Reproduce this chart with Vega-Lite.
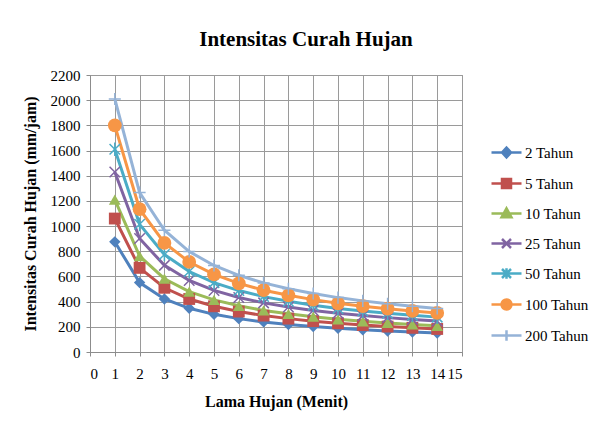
{
  "$schema": "https://vega.github.io/schema/vega-lite/v6.json",
  "width": 372,
  "height": 277,
  "autosize": "none",
  "padding": {"left": 90, "top": 75, "right": 136, "bottom": 76},
  "background": "white",
  "title": {
    "text": "Intensitas Curah Hujan",
    "font": "Liberation Serif",
    "fontSize": 21,
    "fontWeight": "bold",
    "color": "black",
    "anchor": "middle",
    "dx": 30,
    "offset": 18
  },
  "config": {
    "font": "Liberation Serif",
    "view": {"stroke": "#8c8c8c", "strokeWidth": 1},
    "axis": {
      "gridColor": "#9a9a9a",
      "gridOpacity": 1,
      "domainColor": "#8c8c8c",
      "tickColor": "#8c8c8c",
      "tickSize": 4
    }
  },
  "data": {
    "values": [
      {"t": 1, "s": "2 Tahun", "v": 875}, {"t": 2, "s": "2 Tahun", "v": 551}, {"t": 3, "s": "2 Tahun", "v": 421}, {"t": 4, "s": "2 Tahun", "v": 347}, {"t": 5, "s": "2 Tahun", "v": 299}, {"t": 6, "s": "2 Tahun", "v": 265}, {"t": 7, "s": "2 Tahun", "v": 239}, {"t": 8, "s": "2 Tahun", "v": 219}, {"t": 9, "s": "2 Tahun", "v": 202}, {"t": 10, "s": "2 Tahun", "v": 188}, {"t": 11, "s": "2 Tahun", "v": 177}, {"t": 12, "s": "2 Tahun", "v": 167}, {"t": 13, "s": "2 Tahun", "v": 158}, {"t": 14, "s": "2 Tahun", "v": 151},
      {"t": 1, "s": "5 Tahun", "v": 1060}, {"t": 2, "s": "5 Tahun", "v": 668}, {"t": 3, "s": "5 Tahun", "v": 510}, {"t": 4, "s": "5 Tahun", "v": 421}, {"t": 5, "s": "5 Tahun", "v": 363}, {"t": 6, "s": "5 Tahun", "v": 321}, {"t": 7, "s": "5 Tahun", "v": 289}, {"t": 8, "s": "5 Tahun", "v": 265}, {"t": 9, "s": "5 Tahun", "v": 245}, {"t": 10, "s": "5 Tahun", "v": 228}, {"t": 11, "s": "5 Tahun", "v": 214}, {"t": 12, "s": "5 Tahun", "v": 202}, {"t": 13, "s": "5 Tahun", "v": 192}, {"t": 14, "s": "5 Tahun", "v": 183},
      {"t": 1, "s": "10 Tahun", "v": 1210}, {"t": 2, "s": "10 Tahun", "v": 762}, {"t": 3, "s": "10 Tahun", "v": 582}, {"t": 4, "s": "10 Tahun", "v": 480}, {"t": 5, "s": "10 Tahun", "v": 414}, {"t": 6, "s": "10 Tahun", "v": 367}, {"t": 7, "s": "10 Tahun", "v": 330}, {"t": 8, "s": "10 Tahun", "v": 303}, {"t": 9, "s": "10 Tahun", "v": 280}, {"t": 10, "s": "10 Tahun", "v": 260}, {"t": 11, "s": "10 Tahun", "v": 244}, {"t": 12, "s": "10 Tahun", "v": 231}, {"t": 13, "s": "10 Tahun", "v": 219}, {"t": 14, "s": "10 Tahun", "v": 208},
      {"t": 1, "s": "25 Tahun", "v": 1430}, {"t": 2, "s": "25 Tahun", "v": 901}, {"t": 3, "s": "25 Tahun", "v": 688}, {"t": 4, "s": "25 Tahun", "v": 568}, {"t": 5, "s": "25 Tahun", "v": 489}, {"t": 6, "s": "25 Tahun", "v": 433}, {"t": 7, "s": "25 Tahun", "v": 390}, {"t": 8, "s": "25 Tahun", "v": 358}, {"t": 9, "s": "25 Tahun", "v": 330}, {"t": 10, "s": "25 Tahun", "v": 307}, {"t": 11, "s": "25 Tahun", "v": 289}, {"t": 12, "s": "25 Tahun", "v": 273}, {"t": 13, "s": "25 Tahun", "v": 259}, {"t": 14, "s": "25 Tahun", "v": 246},
      {"t": 1, "s": "50 Tahun", "v": 1610}, {"t": 2, "s": "50 Tahun", "v": 1014}, {"t": 3, "s": "50 Tahun", "v": 774}, {"t": 4, "s": "50 Tahun", "v": 639}, {"t": 5, "s": "50 Tahun", "v": 551}, {"t": 6, "s": "50 Tahun", "v": 488}, {"t": 7, "s": "50 Tahun", "v": 440}, {"t": 8, "s": "50 Tahun", "v": 403}, {"t": 9, "s": "50 Tahun", "v": 372}, {"t": 10, "s": "50 Tahun", "v": 346}, {"t": 11, "s": "50 Tahun", "v": 325}, {"t": 12, "s": "50 Tahun", "v": 308}, {"t": 13, "s": "50 Tahun", "v": 291}, {"t": 14, "s": "50 Tahun", "v": 277},
      {"t": 1, "s": "100 Tahun", "v": 1800}, {"t": 2, "s": "100 Tahun", "v": 1134}, {"t": 3, "s": "100 Tahun", "v": 866}, {"t": 4, "s": "100 Tahun", "v": 715}, {"t": 5, "s": "100 Tahun", "v": 616}, {"t": 6, "s": "100 Tahun", "v": 545}, {"t": 7, "s": "100 Tahun", "v": 491}, {"t": 8, "s": "100 Tahun", "v": 450}, {"t": 9, "s": "100 Tahun", "v": 416}, {"t": 10, "s": "100 Tahun", "v": 387}, {"t": 11, "s": "100 Tahun", "v": 364}, {"t": 12, "s": "100 Tahun", "v": 344}, {"t": 13, "s": "100 Tahun", "v": 326}, {"t": 14, "s": "100 Tahun", "v": 310},
      {"t": 1, "s": "200 Tahun", "v": 2010}, {"t": 2, "s": "200 Tahun", "v": 1266}, {"t": 3, "s": "200 Tahun", "v": 967}, {"t": 4, "s": "200 Tahun", "v": 798}, {"t": 5, "s": "200 Tahun", "v": 687}, {"t": 6, "s": "200 Tahun", "v": 609}, {"t": 7, "s": "200 Tahun", "v": 549}, {"t": 8, "s": "200 Tahun", "v": 503}, {"t": 9, "s": "200 Tahun", "v": 464}, {"t": 10, "s": "200 Tahun", "v": 432}, {"t": 11, "s": "200 Tahun", "v": 406}, {"t": 12, "s": "200 Tahun", "v": 384}, {"t": 13, "s": "200 Tahun", "v": 364}, {"t": 14, "s": "200 Tahun", "v": 346}
    ]
  },
  "encoding": {
    "x": {
      "field": "t", "type": "quantitative",
      "scale": {"domain": [0, 15], "nice": false},
      "axis": {"values": [0,1,2,3,4,5,6,7,8,9,10,11,12,13,14,15], "format": "d", "title": "Lama Hujan (Menit)", "labelPadding": 10, "titlePadding": 12, "grid": true,
        "labelFont": "Times New Roman, Liberation Serif, DejaVu Serif, serif", "labelFontSize": 15, "labelColor": "black",
        "titleFont": "Liberation Serif", "titleFontSize": 16, "titleFontWeight": "bold", "titleColor": "black"}
    },
    "y": {
      "field": "v", "type": "quantitative",
      "scale": {"domain": [0, 2200], "nice": false},
      "axis": {"values": [0,200,400,600,800,1000,1200,1400,1600,1800,2000,2200], "format": "d", "title": "Intensitas Curah Hujan (mm/jam)", "labelPadding": 6, "titlePadding": 12, "grid": true,
        "labelFont": "Times New Roman, Liberation Serif, DejaVu Serif, serif", "labelFontSize": 15, "labelColor": "black",
        "titleFont": "Liberation Serif", "titleFontSize": 16, "titleFontWeight": "bold", "titleColor": "black"}
    },
    "color": {
      "field": "s", "type": "nominal",
      "scale": {"domain": ["2 Tahun","5 Tahun","10 Tahun","25 Tahun","50 Tahun","100 Tahun","200 Tahun"], "range": ["#4F81BD","#C0504D","#9BBB59","#8064A2","#4BACC6","#F79646","#95B3D7"]},
      "legend": {
        "title": null,
        "orient": "none",
        "legendX": 400,
        "legendY": 61,
        "symbolSize": 900,
        "symbolOpacity": 1,
        "rowPadding": 4,
        "labelOffset": 2,
        "labelFont": "Times New Roman, Liberation Serif, DejaVu Serif, serif",
        "labelFontSize": 15,
        "labelColor": "black",
        "encode": {
          "symbols": {
            "update": {
              "fill": {"scale": "color", "field": "value"},
              "stroke": {"scale": "color", "field": "value"},
              "strokeWidth": {"value": 2.5},
              "size": {"value": 900},
              "opacity": {"value": 1}
            }
          }
        }
      }
    }
  },
  "layer": [
    {
      "mark": {"type": "line", "strokeWidth": 3}
    },
    {
      "transform": [{"filter": "false"}],
      "mark": {"type": "point", "filled": true},
      "encoding": {
        "shape": {
          "field": "s", "type": "nominal",
          "scale": {"domain": ["2 Tahun","5 Tahun","10 Tahun","25 Tahun","50 Tahun","100 Tahun","200 Tahun"], "range": [
            "M-1,0H1M0,-0.33L0.3,0L0,0.33L-0.3,0Z",
            "M-1,0H1M-0.3,-0.3H0.3V0.3H-0.3Z",
            "M-1,0H1M0,-0.35L0.33,0.25L-0.33,0.25Z",
            "M-1,0H1M-0.3,-0.3L0.3,0.3M-0.3,0.3L0.3,-0.3",
            "M-1,0H1M-0.3,-0.3L0.3,0.3M-0.3,0.3L0.3,-0.3M0,-0.35V0.35",
            "M-1,0H1M-0.33,0A0.33,0.33 0 1,0 0.33,0A0.33,0.33 0 1,0 -0.33,0Z",
            "M-1,0H1M0,-0.35V0.35"
          ]},
          "legend": {"title": null}
        }
      }
    },
    {
      "transform": [{"filter": "datum.s == '2 Tahun'"}],
      "mark": {"type": "point", "shape": "diamond", "filled": true, "size": 130, "opacity": 1}
    },
    {
      "transform": [{"filter": "datum.s == '5 Tahun'"}],
      "mark": {"type": "point", "shape": "square", "filled": true, "size": 140, "opacity": 1}
    },
    {
      "transform": [{"filter": "datum.s == '10 Tahun'"}],
      "mark": {"type": "point", "shape": "triangle-up", "filled": true, "size": 140, "opacity": 1}
    },
    {
      "transform": [{"filter": "datum.s == '25 Tahun'"}],
      "mark": {"type": "point", "shape": "M-1,-1L1,1M-1,1L1,-1", "filled": false, "size": 110, "strokeWidth": 1.5, "opacity": 1}
    },
    {
      "transform": [{"filter": "datum.s == '50 Tahun'"}],
      "mark": {"type": "point", "shape": "M-1,-1L1,1M-1,1L1,-1M0,-1.3V1.3", "filled": false, "size": 110, "strokeWidth": 1.5, "opacity": 1}
    },
    {
      "transform": [{"filter": "datum.s == '100 Tahun'"}],
      "mark": {"type": "point", "shape": "circle", "filled": true, "size": 190, "opacity": 1}
    },
    {
      "transform": [{"filter": "datum.s == '200 Tahun'"}],
      "mark": {"type": "point", "shape": "M-1.1,0H1.1M0,-1.1V1.1", "filled": false, "size": 120, "strokeWidth": 1.5, "opacity": 1}
    }
  ]
}
